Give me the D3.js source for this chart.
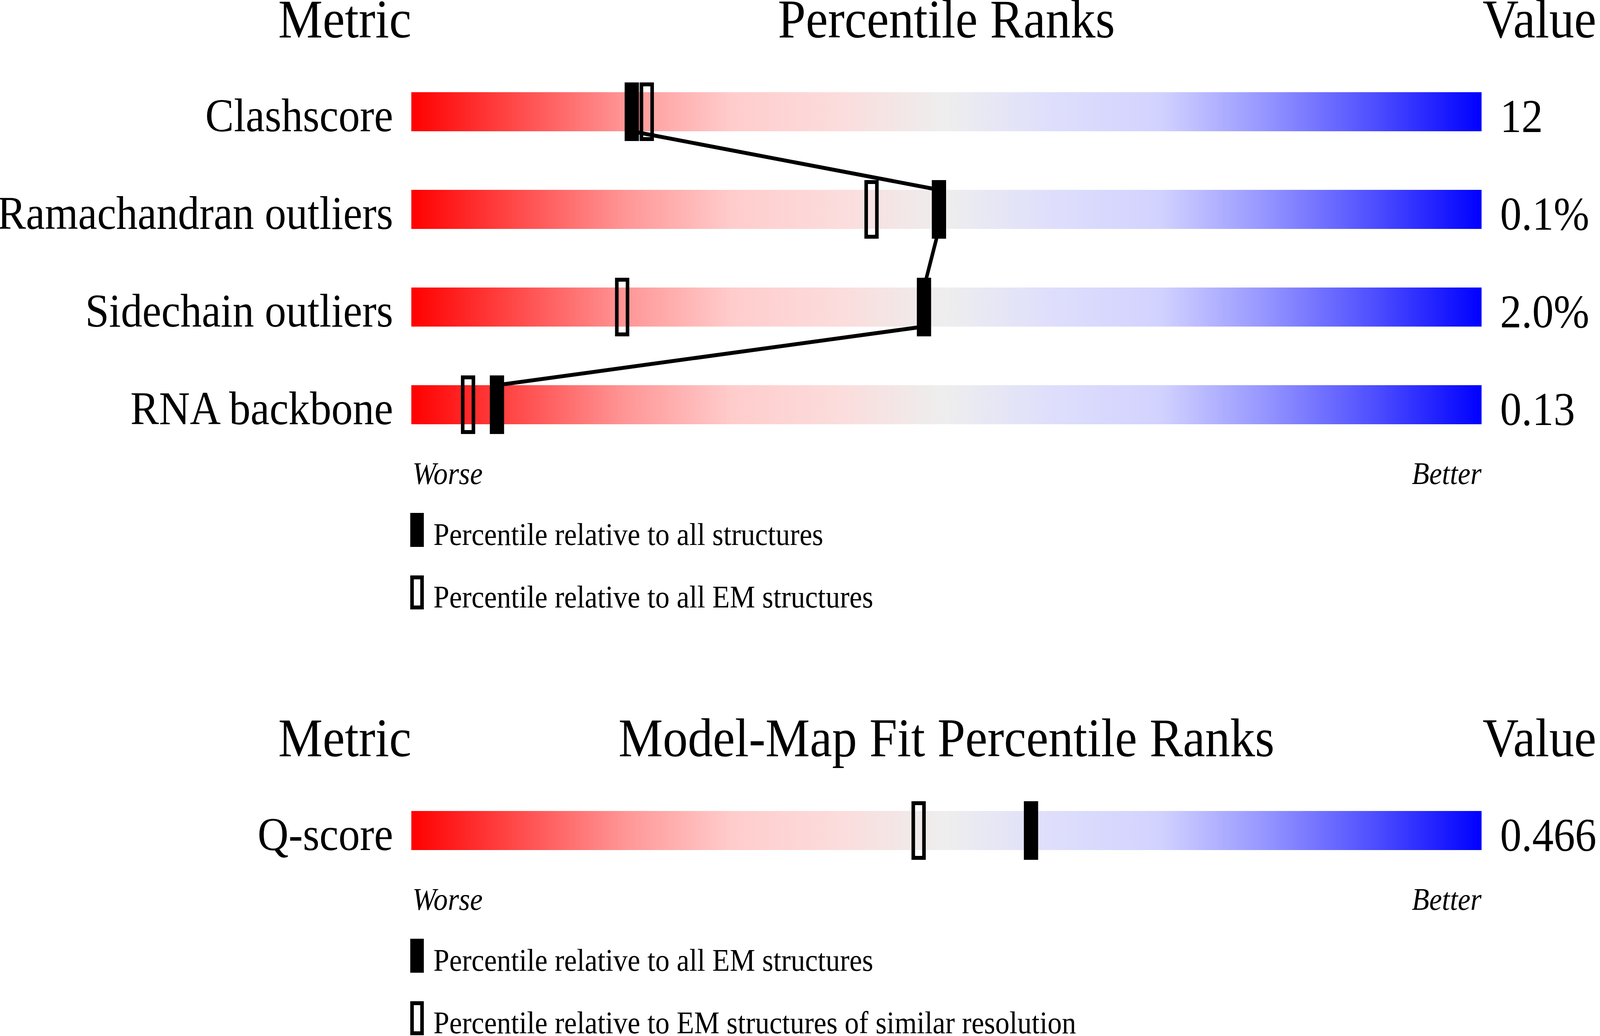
<!DOCTYPE html>
<html>
<head>
<meta charset="utf-8">
<script src="https://cdn.jsdelivr.net/npm/d3@7"></script>
<style>
  html, body { margin: 0; padding: 0; background: #ffffff; overflow: hidden; }
  svg { display: block; }
</style>
</head>
<body>
<div id="chart"></div>
<script>
// ---- DATA --------------------------------------------------------

var metrics = ["Clashscore", "Ramachandran outliers", "Sidechain outliers", "RNA backbone"];
var metricValues = ["12", "0.1%", "2.0%", "0.13"];
var pctAll = [20.6, 49.3, 47.9, 8.0];      // filled markers
var pctEM = [22.0, 43.0, 19.7, 5.3];       // open markers

var fitMetrics = ["Q-score"];
var fitValues = ["0.466"];
var fitPctAllEM = [57.9];                  // filled marker
var fitPctSimilar = [47.4];                // open marker

var headers = ["Metric", "Percentile Ranks", "Value"];
var fitHeaders = ["Metric", "Model-Map Fit Percentile Ranks", "Value"];
var legendTop = ["Percentile relative to all structures", "Percentile relative to all EM structures"];
var legendBottom = ["Percentile relative to all EM structures", "Percentile relative to EM structures of similar resolution"];
var endLabels = ["Worse", "Better"];

// ---- VARIABLES ---------------------------------------------------

var w = 4485;
var h = 2652;
var barLeft = 1153;
var barRight = 4153;
var barH = 100;
var markW = 40;
var markH = 150;
var rowGap = 250;
var font = "'Liberation Serif', 'Times New Roman', Times, serif";

// gradient of the slider bars, worse (red) -> better (blue)
var gradStops = [
  [0, "#ff0000"], [0.2, "#ff9696"], [0.3, "#ffcccc"], [0.4, "#fcdcdc"],
  [0.47, "#f1e9e9"], [0.5, "#eeeeee"], [0.53, "#e9e9f3"], [0.6, "#dedefc"],
  [0.7, "#d2d2ff"], [0.8, "#9494ff"], [0.9, "#4e4eff"], [1, "#0000ff"]
];

// ---- SCALES ------------------------------------------------------

var xScale = d3.scaleLinear()
  .domain([0, 100])
  .range([barLeft, barRight]);

// svg fills the window whatever its css size, drawing in 4485x2652 units
var svg = d3.select("#chart")
  .append("svg")
  .attr("viewBox", "0 0 " + w + " " + h)
  .attr("preserveAspectRatio", "none")
  .style("width", "100vw")
  .style("height", "100vh");

var grad = svg.append("defs")
  .append("linearGradient")
  .attr("id", "slider")
  .attr("x1", "0%").attr("x2", "100%")
  .attr("y1", "0%").attr("y2", "0%");

grad.selectAll("stop")
  .data(gradStops)
  .enter()
  .append("stop")
  .attr("offset", function(d) { return d[0]; })
  .attr("stop-color", function(d) { return d[1]; });

// ---- PANEL BUILDER -----------------------------------------------

function drawPanel(headBase, names, vals, filled, open, heads, legend) {
  var firstCenter = headBase + 140 + barH / 2;

  var yScale = d3.scalePoint()
    .domain(names)
    .range([firstCenter, firstCenter + rowGap * (names.length - 1)]);

  var g = svg.append("g");

  // 1. headers
  g.append("text")
    .attr("x", barLeft).attr("y", headBase)
    .attr("text-anchor", "end")
    .attr("font-family", font).attr("font-size", "140px")
    .text(heads[0]);
  g.append("text")
    .attr("x", (barLeft + barRight) / 2).attr("y", headBase)
    .attr("text-anchor", "middle")
    .attr("font-family", font).attr("font-size", "140px")
    .text(heads[1]);
  g.append("text")
    .attr("x", barRight + 3).attr("y", headBase)
    .attr("text-anchor", "start")
    .attr("font-family", font).attr("font-size", "140px")
    .text(heads[2]);

  // 2. bars
  g.selectAll(".bar")
    .data(names)
    .enter()
    .append("rect")
    .attr("class", "bar")
    .attr("x", xScale(0))
    .attr("y", function(d) { return yScale(d) - barH / 2; })
    .attr("width", xScale(100) - xScale(0))
    .attr("height", barH)
    .attr("fill", "url(#slider)");

  // 3. labels and values
  g.selectAll(".label")
    .data(names)
    .enter()
    .append("text")
    .attr("class", "label")
    .attr("x", barLeft - 51)
    .attr("y", function(d) { return yScale(d) + barH / 2; })
    .attr("text-anchor", "end")
    .attr("font-family", font).attr("font-size", "120px")
    .text(function(d) { return d; });

  g.selectAll(".value")
    .data(names)
    .enter()
    .append("text")
    .attr("class", "value")
    .attr("x", barRight + 52)
    .attr("y", function(d) { return yScale(d) + barH / 2 + 2; })
    .attr("text-anchor", "start")
    .attr("font-family", font).attr("font-size", "120px")
    .text(function(d, i) { return vals[i]; });

  // 4. connecting line between filled markers (bar bottom -> next bar top)
  if (names.length > 1) {
    var pts = [];
    names.forEach(function(d, i) {
      var cx = xScale(filled[i]);
      if (i > 0) pts.push([cx, yScale(d) - barH / 2]);
      if (i < names.length - 1) pts.push([cx, yScale(d) + barH / 2]);
    });
    g.append("path")
      .attr("d", d3.line()(pts))
      .attr("fill", "none")
      .attr("stroke", "black")
      .attr("stroke-width", 10);
  }

  // 5. markers
  g.selectAll(".open")
    .data(names)
    .enter()
    .append("rect")
    .attr("class", "open")
    .attr("x", function(d, i) { return xScale(open[i]) - markW / 2 + 5; })
    .attr("y", function(d) { return yScale(d) - markH / 2 + 5; })
    .attr("width", markW - 10)
    .attr("height", markH - 10)
    .attr("fill", "none")
    .attr("stroke", "black")
    .attr("stroke-width", 10);

  g.selectAll(".filled")
    .data(names)
    .enter()
    .append("rect")
    .attr("class", "filled")
    .attr("x", function(d, i) { return xScale(filled[i]) - markW / 2; })
    .attr("y", function(d) { return yScale(d) - markH / 2; })
    .attr("width", markW)
    .attr("height", markH)
    .attr("fill", "black");

  // 6. worse / better
  var lastBottom = yScale(names[names.length - 1]) + barH / 2;
  g.append("text")
    .attr("x", barLeft + 3).attr("y", lastBottom + 153)
    .attr("text-anchor", "start")
    .attr("font-family", font).attr("font-size", "80px")
    .attr("font-style", "italic")
    .text(endLabels[0]);
  g.append("text")
    .attr("x", barRight).attr("y", lastBottom + 153)
    .attr("text-anchor", "end")
    .attr("font-family", font).attr("font-size", "80px")
    .attr("font-style", "italic")
    .text(endLabels[1]);

  // 7. legend
  var legTop = lastBottom + 227;
  g.append("rect")
    .attr("x", barLeft - 3).attr("y", legTop)
    .attr("width", 38).attr("height", 87)
    .attr("fill", "black");
  g.append("rect")
    .attr("x", barLeft - 3 + 5).attr("y", legTop + 160 + 5)
    .attr("width", 28).attr("height", 77)
    .attr("fill", "none")
    .attr("stroke", "black")
    .attr("stroke-width", 10);

  g.selectAll(".legend")
    .data(legend)
    .enter()
    .append("text")
    .attr("class", "legend")
    .attr("x", barLeft + 62)
    .attr("y", function(d, i) { return legTop + 82 + i * 160; })
    .attr("font-family", font).attr("font-size", "80px")
    .text(function(d) { return d; });
}

// ---- START BUILDING! ---------------------------------------------

drawPanel(96, metrics, metricValues, pctAll, pctEM, headers, legendTop);
drawPanel(1936, fitMetrics, fitValues, fitPctAllEM, fitPctSimilar, fitHeaders, legendBottom);
</script>
</body>
</html>
